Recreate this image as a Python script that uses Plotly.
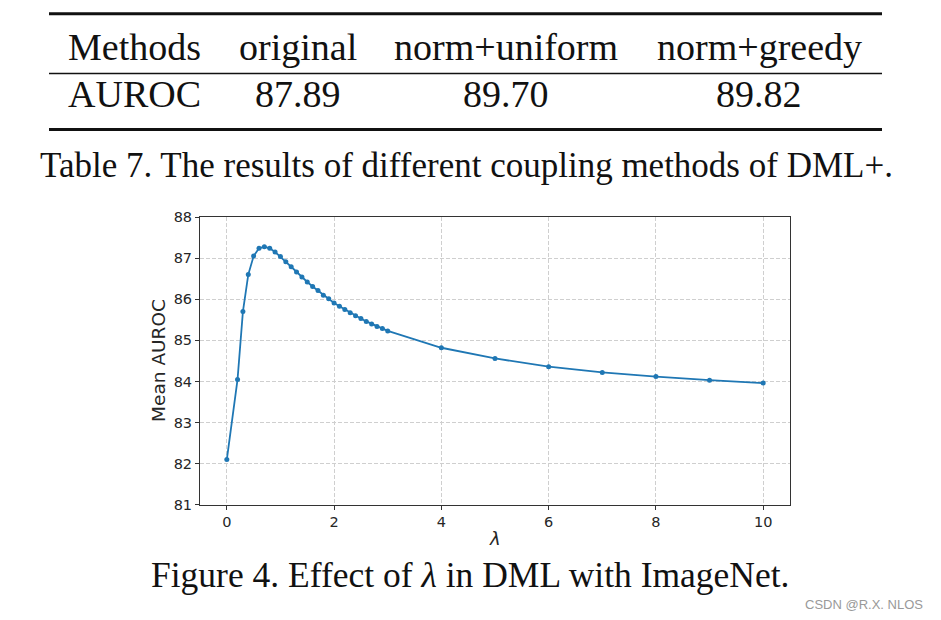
import plotly.graph_objects as go

# ---- data ----
table_header = ["Methods", "original", "norm+uniform", "norm+greedy"]
table_row = ["AUROC", "87.89", "89.70", "89.82"]

lam = [0, 0.2, 0.3, 0.4, 0.5, 0.6, 0.7, 0.8, 0.9, 1.0,
       1.1, 1.2, 1.3, 1.4, 1.5, 1.6, 1.7, 1.8, 1.9, 2.0,
       2.1, 2.2, 2.3, 2.4, 2.5, 2.6, 2.7, 2.8, 2.9, 3.0,
       4, 5, 6, 7, 8, 9, 10]
mean_auroc = [82.10, 84.05, 85.70, 86.60, 87.05, 87.24, 87.28, 87.24, 87.15, 87.04,
              86.91, 86.79, 86.66, 86.54, 86.42, 86.31, 86.21, 86.10, 86.01, 85.91,
              85.83, 85.75, 85.67, 85.60, 85.53, 85.46, 85.40, 85.34, 85.29, 85.23,
              84.82, 84.56, 84.36, 84.22, 84.12, 84.03, 83.96]

x_ticks = [0, 2, 4, 6, 8, 10]
y_ticks = [81, 82, 83, 84, 85, 86, 87, 88]

table_caption = "Table 7. The results of different coupling methods of DML+."
figure_caption = "Figure 4. Effect of <i>λ</i> in DML with ImageNet."
watermark = "CSDN @R.X. NLOS"

W, H = 941, 620


def px(x):
    return x / W


def py(y):
    # target screen pixel row -> paper fraction (compensates the page's
    # vertical offset/scale seen in the rendered screenshot)
    d = (y - 7.8) / 0.975
    return 1 - d / H


fig = go.Figure()
fig.add_trace(go.Scatter(
    x=lam, y=mean_auroc, mode="lines+markers",
    line=dict(color="#1f77b4", width=1.8),
    marker=dict(color="#1f77b4", size=5),
    showlegend=False,
))

axis_common = dict(
    showline=True, linecolor="#333333", linewidth=1, mirror=True,
    ticks="outside", ticklen=4, tickwidth=1, tickcolor="#333333",
    showgrid=True, gridcolor="#cfcfcf", griddash="4px,2px", gridwidth=0.8,
    zeroline=False,
    tickfont=dict(family="DejaVu Sans", size=14.5, color="#262626"),
)

fig.update_layout(
    width=W, height=H,
    margin=dict(l=0, r=0, t=0, b=0),
    paper_bgcolor="white", plot_bgcolor="white",
    xaxis=dict(domain=[px(200), px(790)], range=[-0.5, 10.5],
               tickvals=x_ticks, **axis_common),
    yaxis=dict(domain=[py(505), py(217)], range=[81, 88],
               tickvals=y_ticks, **axis_common),
)

serif = dict(family="Liberation Serif", color="#111111")
ann = []
# table
col_x = [134, 298, 506, 759]
for cx, h, r in zip(col_x, table_header, table_row):
    ann.append(dict(x=px(cx), y=py(46.7), text=h, font=dict(size=38, **serif)))
    ann.append(dict(x=px(cx), y=py(94.2), text=r, font=dict(size=38, **serif)))
ann.append(dict(x=px(466), y=py(165), text=table_caption,
                font=dict(size=35, **serif)))
# axis titles
ann.append(dict(x=px(159), y=py(361), text="Mean AUROC", textangle=-90,
                font=dict(family="DejaVu Sans", size=18.5, color="#262626")))
ann.append(dict(x=px(495), y=py(539), text="<i>λ</i>",
                font=dict(family="DejaVu Sans", size=18, color="#262626")))
# figure caption
ann.append(dict(x=px(470), y=py(575.3), text=figure_caption,
                font=dict(size=35.5, **serif)))
# watermark
ann.append(dict(x=px(925), y=py(605), text=watermark, xanchor="right",
                font=dict(family="Liberation Sans", size=13, color="#999999")))
for a in ann:
    a.setdefault("xanchor", "center")
    a.update(xref="paper", yref="paper", showarrow=False, yanchor="middle")
fig.update_layout(annotations=ann)

shapes = []
for yy, lw in [(13.5, 3), (73.3, 1.4), (129.5, 3)]:
    shapes.append(dict(type="line", xref="paper", yref="paper",
                       x0=px(49), x1=px(882), y0=py(yy), y1=py(yy),
                       line=dict(color="#111111", width=lw)))
fig.update_layout(shapes=shapes)

fig.write_html(
    "out.html",
    config={"displayModeBar": False},
    post_script=(
        "document.documentElement.style.margin='0';"
        "document.documentElement.style.padding='0';"
        "document.documentElement.style.overflow='hidden';"
        "document.body.style.margin='0';"
        "document.body.style.padding='0';"
        "document.body.style.overflow='hidden';"
    ),
)
